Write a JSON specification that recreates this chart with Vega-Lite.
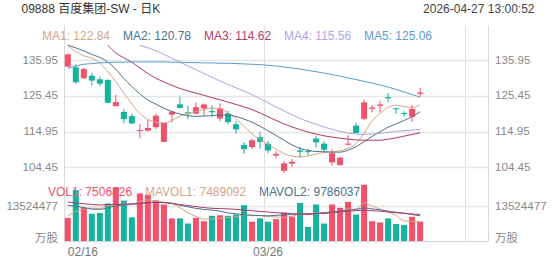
{
  "$schema": "https://vega.github.io/schema/vega-lite/v6.json",
  "width": 424,
  "height": 216,
  "autosize": {"type": "none"},
  "padding": {"left": 64, "top": 25, "right": 64, "bottom": 24},
  "background": "white",
  "config": {
    "view": {"stroke": null},
    "font": "Liberation Sans, Noto Sans CJK SC",
    "axis": {"labelFont": "Liberation Sans, Noto Sans CJK SC", "titleFont": "Liberation Sans, Noto Sans CJK SC", "labelColor": "#888888", "labelFontSize": 11.6, "ticks": false, "domainColor": "#d9d9d9", "titleFontWeight": "normal", "labelOverlap": false},
    "legend": {"labelFont": "Liberation Sans, Noto Sans CJK SC"}
  },
  "data": {"values": [
    {"d":"02/16","o":134.0,"h":137.9,"l":133.8,"c":137.6,"v":9000000,"MA1":140.2,"MA2":140.3,"MA5":133.5,"MAVOL1":9800000,"MAVOL2":13900000,"MAVOL3":15200000},
    {"d":"02/20","o":133.8,"h":134.7,"l":129.0,"c":129.4,"v":19800000,"MA1":138.4,"MA2":139.5,"MA5":134.2,"MAVOL1":11500000,"MAVOL2":13500000,"MAVOL3":14800000},
    {"d":"02/23","o":130.6,"h":133.7,"l":130.4,"c":133.3,"v":13000000,"MA1":137.2,"MA2":138.6,"MA5":134.7,"MAVOL1":12500000,"MAVOL2":13000000,"MAVOL3":14500000},
    {"d":"02/24","o":131.35,"h":132.2,"l":128.5,"c":129.9,"v":10600000,"MA1":136.5,"MA2":137.6,"MA5":134.9,"MAVOL1":12800000,"MAVOL2":12400000,"MAVOL3":14200000},
    {"d":"02/25","o":130.3,"h":131.1,"l":128.3,"c":129.0,"v":10900000,"MA1":135.0,"MA2":136.7,"MA5":135.1,"MAVOL1":12700000,"MAVOL2":12300000,"MAVOL3":14000000},
    {"d":"02/26","o":130.1,"h":130.3,"l":123.2,"c":123.4,"v":14600000,"MA1":132.5,"MA2":135.4,"MA3":140.3,"MA5":135.2,"MAVOL1":13600000,"MAVOL2":13000000,"MAVOL3":14100000},
    {"d":"02/27","o":122.4,"h":125.7,"l":122.3,"c":123.6,"v":20900000,"MA1":129.6,"MA2":133.2,"MA3":138.0,"MA5":135.3,"MAVOL1":14000000,"MAVOL2":13600000,"MAVOL3":14200000},
    {"d":"03/02","o":120.7,"h":121.6,"l":117.4,"c":118.6,"v":15700000,"MA1":126.3,"MA2":130.5,"MA3":136.6,"MA5":135.3,"MAVOL1":14500000,"MAVOL2":14000000,"MAVOL3":14300000},
    {"d":"03/03","o":119.5,"h":120.3,"l":117.2,"c":117.3,"v":9200000,"MA1":123.0,"MA2":128.2,"MA3":135.3,"MA5":135.4,"MAVOL1":14300000,"MAVOL2":14300000,"MAVOL3":14400000},
    {"d":"03/04","o":115.1,"h":117.1,"l":112.9,"c":115.4,"v":18500000,"MA1":120.3,"MA2":126.0,"MA3":133.6,"MA4":140.3,"MA5":135.4,"MAVOL1":15500000,"MAVOL2":14600000,"MAVOL3":14600000},
    {"d":"03/05","o":115.2,"h":118.5,"l":114.9,"c":116.0,"v":18000000,"MA1":118.5,"MA2":124.2,"MA3":132.0,"MA4":139.5,"MA5":135.4,"MAVOL1":16000000,"MAVOL2":15000000,"MAVOL3":14800000},
    {"d":"03/06","o":116.2,"h":120.2,"l":115.7,"c":119.6,"v":15800000,"MA1":117.7,"MA2":123.0,"MA3":130.6,"MA4":138.7,"MA5":135.4,"MAVOL1":15500000,"MAVOL2":15100000,"MAVOL3":15000000},
    {"d":"03/09","o":111.9,"h":117.6,"l":111.8,"c":117.45,"v":14200000,"MA1":117.5,"MA2":121.8,"MA3":129.5,"MA4":137.6,"MA5":135.4,"MAVOL1":15100000,"MAVOL2":15000000,"MAVOL3":14900000},
    {"d":"03/10","o":119.9,"h":121.0,"l":117.6,"c":120.8,"v":8800000,"MA1":118.2,"MA2":120.8,"MA3":128.5,"MA4":136.5,"MA5":135.3,"MAVOL1":14500000,"MAVOL2":14700000,"MAVOL3":14600000},
    {"d":"03/11","o":122.95,"h":125.2,"l":121.7,"c":121.9,"v":8800000,"MA1":119.5,"MA2":120.1,"MA3":127.6,"MA4":135.3,"MA5":135.3,"MAVOL1":13000000,"MAVOL2":13900000,"MAVOL3":14200000},
    {"d":"03/12","o":120.6,"h":122.5,"l":118.6,"c":120.2,"v":6800000,"MA1":120.3,"MA2":119.6,"MA3":126.9,"MA4":134.2,"MA5":135.2,"MAVOL1":11000000,"MAVOL2":13300000,"MAVOL3":13800000},
    {"d":"03/13","o":120.2,"h":123.5,"l":120.0,"c":122.1,"v":9000000,"MA1":120.8,"MA2":119.4,"MA3":126.2,"MA4":133.1,"MA5":135.2,"MAVOL1":9600000,"MAVOL2":12700000,"MAVOL3":13400000},
    {"d":"03/16","o":121.7,"h":123.2,"l":119.5,"c":122.9,"v":7700000,"MA1":121.4,"MA2":119.5,"MA3":125.6,"MA4":132.0,"MA5":135.1,"MAVOL1":8500000,"MAVOL2":12300000,"MAVOL3":13000000},
    {"d":"03/17","o":121.0,"h":122.7,"l":119.3,"c":120.6,"v":9800000,"MA1":121.8,"MA2":119.6,"MA3":124.9,"MA4":130.9,"MA5":135.1,"MAVOL1":8600000,"MAVOL2":12000000,"MAVOL3":12700000},
    {"d":"03/18","o":118.8,"h":123.2,"l":118.0,"c":121.8,"v":10000000,"MA1":121.7,"MA2":119.8,"MA3":124.3,"MA4":129.8,"MA5":135.0,"MAVOL1":8800000,"MAVOL2":11600000,"MAVOL3":12600000},
    {"d":"03/19","o":120.3,"h":121.0,"l":117.2,"c":117.7,"v":9800000,"MA1":120.4,"MA2":119.8,"MA3":123.6,"MA4":128.8,"MA5":135.0,"MAVOL1":9200000,"MAVOL2":10900000,"MAVOL3":12500000},
    {"d":"03/20","o":117.1,"h":118.1,"l":114.3,"c":115.6,"v":10300000,"MA1":118.8,"MA2":119.4,"MA3":122.9,"MA4":127.8,"MA5":134.9,"MAVOL1":9400000,"MAVOL2":10600000,"MAVOL3":12300000},
    {"d":"03/23","o":111.0,"h":111.9,"l":108.4,"c":109.8,"v":13900000,"MA1":116.4,"MA2":118.6,"MA3":122.2,"MA4":126.8,"MA5":134.8,"MAVOL1":10200000,"MAVOL2":10200000,"MAVOL3":12000000},
    {"d":"03/24","o":110.4,"h":112.8,"l":109.8,"c":112.4,"v":7500000,"MA1":114.3,"MA2":117.7,"MA3":121.4,"MA4":125.8,"MA5":134.7,"MAVOL1":10000000,"MAVOL2":10000000,"MAVOL3":11800000},
    {"d":"03/25","o":113.3,"h":114.8,"l":109.9,"c":111.9,"v":8800000,"MA1":112.6,"MA2":116.5,"MA3":120.4,"MA4":124.6,"MA5":134.6,"MAVOL1":9800000,"MAVOL2":9900000,"MAVOL3":11500000},
    {"d":"03/26","o":111.4,"h":112.2,"l":108.6,"c":109.4,"v":7500000,"MA1":111.2,"MA2":115.2,"MA3":119.3,"MA4":123.4,"MA5":134.4,"MAVOL1":9500000,"MAVOL2":9800000,"MAVOL3":11300000},
    {"d":"03/27","o":107.9,"h":109.2,"l":107.1,"c":108.4,"v":8500000,"MA1":109.8,"MA2":113.8,"MA3":118.2,"MA4":122.2,"MA5":134.2,"MAVOL1":9400000,"MAVOL2":10000000,"MAVOL3":11000000},
    {"d":"03/30","o":103.4,"h":106.3,"l":102.7,"c":105.6,"v":11100000,"MA1":108.5,"MA2":112.4,"MA3":117.2,"MA4":121.0,"MA5":133.9,"MAVOL1":9200000,"MAVOL2":10100000,"MAVOL3":10800000},
    {"d":"03/31","o":105.5,"h":106.9,"l":104.5,"c":106.1,"v":9400000,"MA1":107.7,"MA2":111.0,"MA3":116.3,"MA4":119.9,"MA5":133.6,"MAVOL1":9600000,"MAVOL2":10300000,"MAVOL3":10600000},
    {"d":"04/01","o":109.4,"h":110.5,"l":107.3,"c":109.0,"v":14800000,"MA1":107.5,"MA2":110.0,"MA3":115.5,"MA4":118.8,"MA5":133.3,"MAVOL1":10400000,"MAVOL2":10500000,"MAVOL3":10500000},
    {"d":"04/02","o":109.2,"h":109.9,"l":107.9,"c":108.9,"v":5500000,"MA1":107.8,"MA2":109.4,"MA3":114.8,"MA4":117.9,"MA5":132.9,"MAVOL1":10200000,"MAVOL2":10600000,"MAVOL3":10400000},
    {"d":"04/08","o":112.9,"h":113.7,"l":110.2,"c":111.8,"v":14200000,"MA1":108.3,"MA2":109.1,"MA3":114.2,"MA4":117.1,"MA5":132.5,"MAVOL1":11000000,"MAVOL2":10800000,"MAVOL3":10600000},
    {"d":"04/09","o":111.4,"h":112.1,"l":108.8,"c":109.6,"v":6800000,"MA1":108.8,"MA2":109.0,"MA3":113.7,"MA4":116.3,"MA5":132.1,"MAVOL1":10600000,"MAVOL2":11000000,"MAVOL3":10800000},
    {"d":"04/10","o":105.9,"h":109.8,"l":104.9,"c":108.6,"v":14200000,"MA1":109.0,"MA2":108.9,"MA3":113.3,"MA4":115.6,"MA5":131.7,"MAVOL1":11200000,"MAVOL2":11300000,"MAVOL3":11000000},
    {"d":"04/13","o":105.1,"h":107.4,"l":104.9,"c":107.3,"v":12900000,"MA1":109.3,"MA2":108.9,"MA3":113.0,"MA4":115.0,"MA5":131.2,"MAVOL1":11300000,"MAVOL2":11600000,"MAVOL3":11300000},
    {"d":"04/14","o":111.1,"h":113.9,"l":110.8,"c":111.4,"v":15200000,"MA1":110.0,"MA2":109.5,"MA3":112.7,"MA4":114.5,"MA5":130.7,"MAVOL1":12500000,"MAVOL2":12000000,"MAVOL3":11600000},
    {"d":"04/15","o":116.7,"h":117.6,"l":114.4,"c":114.5,"v":10300000,"MA1":111.4,"MA2":110.5,"MA3":112.5,"MA4":114.2,"MA5":130.2,"MAVOL1":12300000,"MAVOL2":12300000,"MAVOL3":11800000},
    {"d":"04/16","o":118.7,"h":124.3,"l":118.3,"c":123.5,"v":21900000,"MA1":114.5,"MA2":112.0,"MA3":112.4,"MA4":114.1,"MA5":129.7,"MAVOL1":14900000,"MAVOL2":12900000,"MAVOL3":12000000},
    {"d":"04/17","o":121.6,"h":122.7,"l":120.6,"c":122.0,"v":7700000,"MA1":118.0,"MA2":113.5,"MA3":112.4,"MA4":114.2,"MA5":129.2,"MAVOL1":13600000,"MAVOL2":12500000,"MAVOL3":11800000},
    {"d":"04/20","o":122.5,"h":123.9,"l":120.6,"c":122.9,"v":7200000,"MA1":120.3,"MA2":114.9,"MA3":112.4,"MA4":114.4,"MA5":128.6,"MAVOL1":12400000,"MAVOL2":12100000,"MAVOL3":11600000},
    {"d":"04/21","o":125.05,"h":126.2,"l":123.5,"c":124.7,"v":8800000,"MA1":122.0,"MA2":116.2,"MA3":112.7,"MA4":114.7,"MA5":128.0,"MAVOL1":11200000,"MAVOL2":11600000,"MAVOL3":11300000},
    {"d":"04/22","o":121.8,"h":122.0,"l":120.1,"c":121.5,"v":6600000,"MA1":122.7,"MA2":117.2,"MA3":113.1,"MA4":115.0,"MA5":127.3,"MAVOL1":10000000,"MAVOL2":11200000,"MAVOL3":11000000},
    {"d":"04/23","o":120.4,"h":121.0,"l":119.3,"c":120.1,"v":6200000,"MA1":122.3,"MA2":118.2,"MA3":113.6,"MA4":115.2,"MA5":126.6,"MAVOL1":7800000,"MAVOL2":10800000,"MAVOL3":10800000},
    {"d":"04/24","o":119.3,"h":122.7,"l":117.8,"c":121.6,"v":9400000,"MA1":122.0,"MA2":119.3,"MA3":114.1,"MA4":115.4,"MA5":125.8,"MAVOL1":7700000,"MAVOL2":10300000,"MAVOL3":10500000},
    {"d":"04/27","o":126.0,"h":127.8,"l":125.2,"c":126.4,"v":7506826,"MA1":122.84,"MA2":120.78,"MA3":114.62,"MA4":115.56,"MA5":125.06,"MAVOL1":7489092,"MAVOL2":9786037,"MAVOL3":10300000}
  ]},
  "encoding": {
    "x": {
      "field": "d", "type": "ordinal",
      "scale": {"type": "band", "paddingInner": 0.25, "paddingOuter": 0.1,
        "domain": ["02/16","02/20","02/23","02/24","02/25","02/26","02/27","03/02","03/03","03/04","03/05","03/06","03/09","03/10","03/11","03/12","03/13","03/16","03/17","03/18","03/19","03/20","03/23","03/24","03/25","03/26","03/27","03/30","03/31","04/01","04/02","04/08","04/09","04/10","04/13","04/14","04/15","04/16","04/17","04/20","04/21","04/22","04/23","04/24","04/27","04/28","04/29","04/30","05/04","05/05","05/06","05/07","05/08"]},
      "axis": {"orient": "bottom", "values": ["02/16","03/26","05/06"], "bandPosition": 0, "grid": true, "gridColor": "#e0e0e0", "gridWidth": 1, "domain": true, "domainColor": "#d9d9d9", "labelAngle": 0, "labelFlush": true, "labelPadding": 5, "labelFontSize": 12, "labelColor": "#777777", "labelExpr": "datum.value == '05/06' ? '' : datum.label", "title": null}
    }
  },
  "layer": [
    {
      "mark": {"type": "rule", "strokeWidth": 1},
      "encoding": {
        "y": {"field": "l", "type": "quantitative", "scale": {"domain": [82.81, 146.23], "zero": false, "nice": false},
          "axis": {"orient": "left", "values": [104.45, 114.95, 125.45, 135.95], "format": ".2f", "grid": true, "gridWidth": 1.5, "gridColor": "#e6e6e6", "domain": true, "labelPadding": 6.5,
            "title": "09888 百度集团-SW - 日K", "titleAngle": 0, "titleAlign": "left", "titleBaseline": "middle", "titleX": -43, "titleY": -16.5, "titleFontSize": 12, "titleColor": "#333333"}},
        "y2": {"field": "h"},
        "color": {"condition": {"test": "datum.c >= datum.o", "value": "#f2506b"}, "value": "#14b39e"}
      }
    },
    {
      "mark": {"type": "bar"},
      "encoding": {
        "y": {"field": "o", "type": "quantitative", "scale": {"domain": [82.81, 146.23], "zero": false, "nice": false},
          "axis": {"orient": "right", "values": [104.45, 114.95, 125.45, 135.95], "format": ".2f", "grid": false, "domain": true, "labelPadding": 6.5,
            "title": "2026-04-27  13:00:52", "titleAngle": 0, "titleAlign": "right", "titleBaseline": "middle", "titleX": 46, "titleY": -16.5, "titleFontSize": 12, "titleColor": "#444444"}},
        "y2": {"field": "c"},
        "color": {"condition": {"test": "datum.c >= datum.o", "value": "#f2506b"}, "value": "#14b39e"}
      }
    },
    {
      "transform": [{"fold": ["MA1","MA2","MA3","MA4","MA5"], "as": ["ma","val"]}],
      "mark": {"type": "line", "strokeWidth": 1, "interpolate": "monotone"},
      "encoding": {
        "y": {"field": "val", "type": "quantitative", "scale": {"domain": [82.81, 146.23], "zero": false, "nice": false}, "axis": null},
        "color": {"field": "ma", "type": "nominal",
          "scale": {"domain": ["MA1","MA2","MA3","MA4","MA5"], "range": ["#d3a68b","#4e7189","#b03a6e","#aaa6e4","#5a9bd3"]},
          "legend": {"orient": "none", "legendX": -34, "legendY": 5, "direction": "horizontal", "title": null, "padding": 0,
            "symbolSize": 0, "symbolOpacity": 0, "symbolStrokeWidth": 0, "labelOffset": 0, "columnPadding": -2, "labelFontSize": 12,
            "labelExpr": "datum.label == 'MA1' ? 'MA1: 122.84' : datum.label == 'MA2' ? 'MA2: 120.78' : datum.label == 'MA3' ? 'MA3: 114.62' : datum.label == 'MA4' ? 'MA4: 115.56' : 'MA5: 125.06'",
            "labelColor": {"expr": "datum.value == 'MA1' ? '#d3a68b' : datum.value == 'MA2' ? '#4e7189' : datum.value == 'MA3' ? '#b03a6e' : datum.value == 'MA4' ? '#aaa6e4' : '#5a9bd3'"}}
        }
      }
    },
    {
      "mark": {"type": "bar"},
      "encoding": {
        "y": {"field": "v", "type": "quantitative", "scale": {"domain": [0, 84000000], "nice": false},
          "axis": {"orient": "left", "values": [0, 13524477], "grid": true, "gridWidth": 1.5, "gridColor": "#e6e6e6", "domain": false, "labelPadding": 6.5, "title": null,
            "labelExpr": "datum.value == 0 ? '万股' : format(datum.value, 'd')",
            "labelBaseline": {"condition": {"test": "datum.value == 0", "value": "alphabetic"}, "value": "middle"}}},
        "color": {"condition": {"test": "datum.c >= datum.o", "value": "#f2506b"}, "value": "#14b39e"}
      }
    },
    {
      "transform": [{"fold": ["MAVOL1","MAVOL2","MAVOL3"], "as": ["mv","vval"]}],
      "mark": {"type": "line", "strokeWidth": 1, "interpolate": "monotone"},
      "encoding": {
        "y": {"field": "vval", "type": "quantitative", "scale": {"domain": [0, 84000000], "nice": false},
          "axis": {"orient": "right", "values": [0, 13524477], "grid": false, "domain": false, "labelPadding": 6.5, "title": null,
            "labelExpr": "datum.value == 0 ? '万股' : format(datum.value, 'd')",
            "labelBaseline": {"condition": {"test": "datum.value == 0", "value": "alphabetic"}, "value": "middle"}}},
        "color": {"field": "mv", "type": "nominal",
          "scale": {"domain": ["VOL1","MAVOL1","MAVOL2","MAVOL3"], "range": ["#f2506b","#d3a68b","#4e7189","#b03a6e"]},
          "legend": {"orient": "none", "legendX": -28, "legendY": 161, "direction": "horizontal", "title": null, "padding": 0,
            "values": ["VOL1","MAVOL1","MAVOL2"],
            "symbolSize": 0, "symbolOpacity": 0, "symbolStrokeWidth": 0, "labelOffset": 0, "columnPadding": -2, "labelFontSize": 12,
            "labelExpr": "datum.label == 'VOL1' ? 'VOL1: 7506826' : datum.label == 'MAVOL1' ? 'MAVOL1: 7489092' : 'MAVOL2: 9786037'",
            "labelColor": {"expr": "datum.value == 'VOL1' ? '#f2506b' : datum.value == 'MAVOL1' ? '#d3a68b' : '#4e7189'"}}
        }
      }
    }
  ],
  "resolve": {"scale": {"y": "independent", "color": "independent"}, "axis": {"y": "independent"}, "legend": {"color": "independent"}}
}
